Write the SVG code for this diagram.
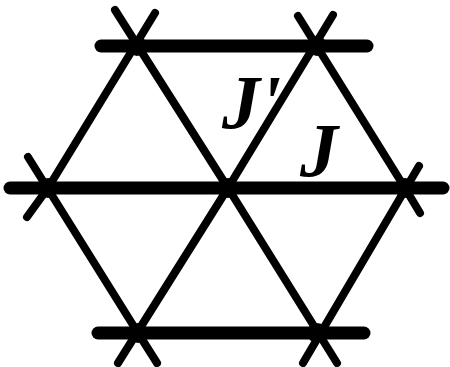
<svg xmlns="http://www.w3.org/2000/svg" width="450" height="367" viewBox="0 0 450 367">
<style>
.bg{fill:#fff}
.j{stroke:#000;stroke-width:13;stroke-linecap:round;fill:none}
.jp{stroke:#000;stroke-width:8;stroke-linecap:round;fill:none}
.site{fill:#000}
.lbl{font-family:"Liberation Serif",serif;font-weight:bold;font-style:italic;font-size:76px;fill:#000}
</style>
<rect class="bg" width="450" height="367"/>
<g id="connectors">
<line class="j" x1="101" y1="46" x2="367" y2="46"/>
<line class="j" x1="10" y1="188" x2="443" y2="188"/>
<line class="j" x1="98" y1="333" x2="364" y2="333"/>
<line class="jp" x1="155" y1="13" x2="48" y2="188"/>
<line class="jp" x1="115" y1="10" x2="228" y2="188"/>
<line class="jp" x1="333" y1="15" x2="228" y2="188"/>
<line class="jp" x1="298" y1="16" x2="405" y2="188"/>
<line class="jp" x1="28" y1="157" x2="138" y2="333"/>
<line class="jp" x1="27" y1="217" x2="48" y2="188"/>
<line class="jp" x1="228" y1="188" x2="118" y2="363"/>
<line class="jp" x1="228" y1="188" x2="337" y2="363"/>
<line class="jp" x1="138" y1="333" x2="157" y2="363"/>
<line class="jp" x1="419" y1="166" x2="303" y2="363"/>
<line class="jp" x1="405" y1="188" x2="420" y2="213"/>
</g>
<g id="n1"><circle class="site" cx="137" cy="46" r="10"/></g>
<g id="n2"><circle class="site" cx="317" cy="46" r="10"/></g>
<g id="n3"><circle class="site" cx="48" cy="188" r="10"/></g>
<g id="n4"><circle class="site" cx="228" cy="188" r="10"/></g>
<g id="n5"><circle class="site" cx="405" cy="188" r="10"/></g>
<g id="n6"><circle class="site" cx="138" cy="333" r="10"/></g>
<g id="n7"><circle class="site" cx="317" cy="333" r="10"/></g>
<g id="labels">
<text class="lbl" x="222" y="128">J'</text>
<text class="lbl" x="300" y="176">J</text>
</g>
</svg>
